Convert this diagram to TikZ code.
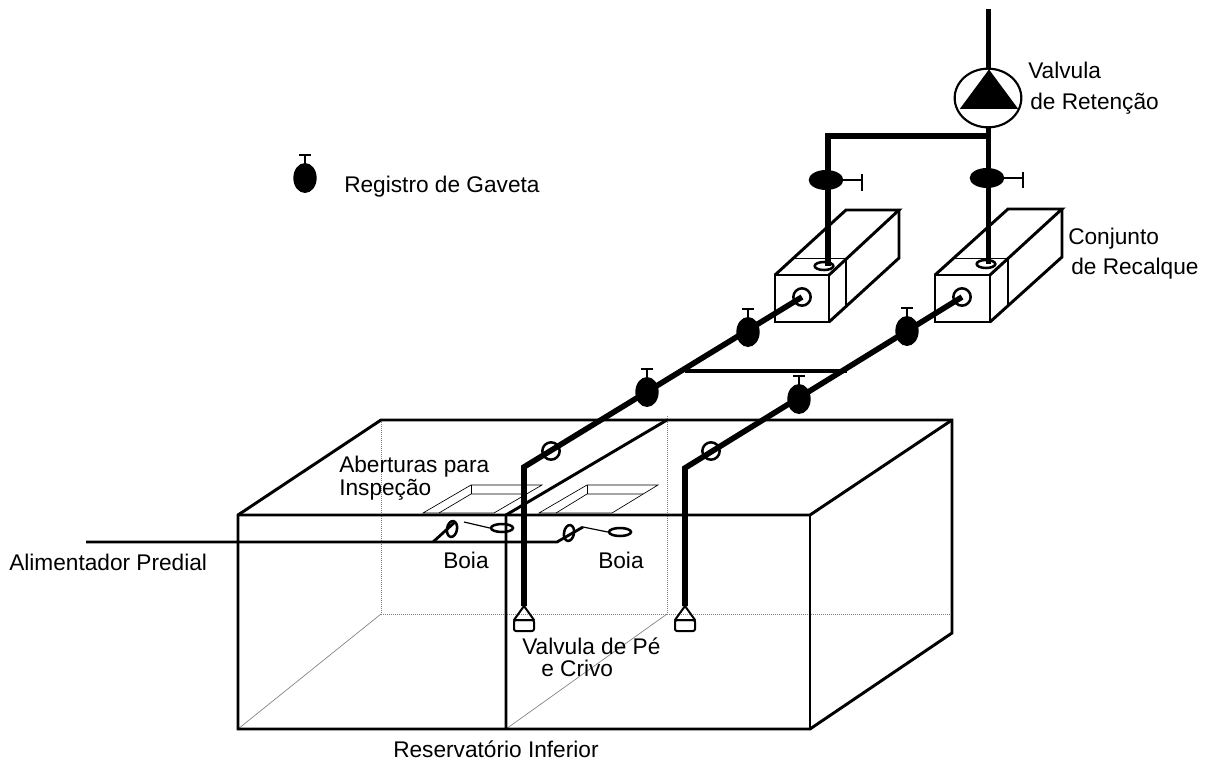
\documentclass[tikz,border=0pt]{standalone}
\usepackage{fontspec}
\setmainfont{Liberation Sans}
\usetikzlibrary{shapes.geometric}
\tikzset{
    pipe/.style={line width=4.2pt},
    feed/.style={line width=2.1pt},
    edge/.style={line width=2.2pt},
    faint/.style={gray, line width=0.5pt},
    hatchline/.style={black, line width=0.5pt},
    valvebody/.style={ellipse, fill=black, inner sep=0pt, minimum width=17.5pt, minimum height=22.5pt},
    valveside/.style={ellipse, fill=black, inner sep=0pt, minimum width=26pt, minimum height=15pt},
    ring/.style={ellipse, draw=black, line width=1.9pt, inner sep=0pt, minimum width=13pt, minimum height=13pt},
    slot/.style={ellipse, draw=black, line width=1.9pt, inner sep=0pt, minimum width=16.5pt, minimum height=6pt},
    lbl/.style={anchor=base west, inner sep=0pt, font=\fontsize{17}{20}\selectfont}
}
\begin{document}
\begin{tikzpicture}[x=0.75pt, y=-0.75pt]
        \useasboundingbox (0,0) rectangle (1211,763);

        % hidden edges of the tank
        \draw[faint, densely dotted] (381,420) -- (381,614) -- (952,614);
        \draw[faint, densely dotted] (667,416) -- (667,614);
        \draw[faint] (238,729) -- (381,614);
        \draw[faint] (506,729) -- (667,614);

        % tank
        \draw[edge] (238,729) -- (238,515) -- (381,420) -- (952,420) -- (952,633) -- (810,729) -- cycle;
        \draw[edge] (238,515) -- (810,515) -- (952,420);
        \draw[edge] (810,515) -- (810,729);
        \draw[edge] (667,420) -- (506,515) -- (506,729);

        % openings
        \draw[hatchline] (423,513) -- (471,485) -- (542,485) -- (494,513) -- cycle;
        \draw[hatchline] (439,513) -- (471,494) -- (527,494);
        \draw[hatchline] (471,485) -- (471,494);
        \draw[hatchline] (539,513) -- (587,485) -- (658,485) -- (612,513) -- cycle;
        \draw[hatchline] (556,513) -- (587,494) -- (643,494);
        \draw[hatchline] (587,485) -- (587,494);

        % left pump
        \draw[edge] (775,275) rectangle (829,322);
        \draw[edge] (775,275) -- (846,210) -- (899,210) -- (829,275);
        \draw[edge] (899,210) -- (899,258) -- (829,322);
        \draw[edge] (846,258) -- (846,305);
        \draw[faint, black] (793,258) -- (846,258);

        % right pump
        \draw[edge] (935,275) rectangle (990,322);
        \draw[edge] (935,275) -- (1008,209) -- (1062,209) -- (990,275);
        \draw[edge] (1062,209) -- (1062,257) -- (990,322);
        \draw[edge] (1008,257) -- (1008,305);
        \draw[faint, black] (953,258) -- (1008,258);

        % pipe corners
        \coordinate (bendA) at (524,467);
        \coordinate (bendB) at (685,468);
        \coordinate (teeA) at (685,371);
        \coordinate (teeB) at (847,371);
        \coordinate (topL) at (828,136);
        \coordinate (topR) at (988.5,136);
        \coordinate (pipeEnd) at (988.5,9);
        \coordinate (footA) at (524,606);
        \coordinate (footB) at (685,606);

        % holes of the pumps
        \node[ring] (inA) at (802,297) {};
        \node[ring] (inB) at (962,297) {};
        \node[slot, minimum width=14pt] (outA) at (824,266) {};
        \node[slot, minimum width=14pt] (outB) at (986,264) {};

        % foot valves
        \foreach \fx in {524,685} {
            \draw[line width=1.5pt, line join=round] (\fx,606) -- (\fx+10,620) -- (\fx-10,620) -- cycle;
            \draw[line width=1.5pt, rounded corners=1.5pt] (\fx-10,620) rectangle (\fx+10,631);
        }

        % pipes
        \draw[pipe] (footA) -- (bendA) -- (inA.center);
        \draw[pipe] (footB) -- (bendB) -- (inB.center);
        \draw[line width=2.7pt] (teeA) -- (teeB);
        \draw[pipe] (topL |- outA.center) -- (topL) -- (topR);
        \draw[pipe] (topR |- outB.center) -- (pipeEnd);

        % check valve
        \node[draw=black, fill=white, ellipse, line width=1.6pt, inner sep=0pt, minimum width=50pt, minimum height=44pt] (check) at (988,98) {};
        \node[fill=black, isosceles triangle, isosceles triangle apex angle=73, shape border rotate=90, inner sep=0pt, minimum height=29.5pt, anchor=apex] (checkTri) at (989,69) {};

        % valves on the suction pipes
        \foreach \vname/\vx/\vy in {vA/647/392, vB/748/332, vC/799/399, vD/907/331} {
            \node[valvebody] (\vname) at (\vx,\vy) {};
            \draw[line width=1.4pt] (\vname.center) -- (\vx,\vy-23);
            \draw[line width=2pt] (\vx-6,\vy-23) -- (\vx+6,\vy-23);
        }
        % legend valve
        \node[valvebody] (vKey) at (305,178) {};
        \draw[line width=1.4pt] (vKey.center) -- (305,155);
        \draw[line width=2pt] (299,155) -- (311,155);

        % valves on the discharge pipes
        \node[valveside] (vE) at (826,180) {};
        \draw[line width=1.4pt] (vE.center) -- (862,180);
        \draw[line width=2pt] (862,174) -- (862,191);
        \node[valveside] (vF) at (987,178) {};
        \draw[line width=1.4pt] (vF.center) -- (1023,178);
        \draw[line width=2pt] (1023,172) -- (1023,188);

        % rings on the pipes
        \node[ring] (ringA) at (551,451) {};
        \node[ring] (ringB) at (711,451) {};

        % feed line and floats
        \draw[feed] (86,542) -- (557,542) -- (583,527);
        \draw[feed] (433,542) -- (455,522);
        \node[ring, minimum width=7.5pt, minimum height=12pt, rotate=-10] (gripA) at (452,529) {};
        \node[ring, minimum width=7.5pt, minimum height=12pt, rotate=-10] (gripB) at (569,533) {};
        \node[slot] (floatA) at (502,528) {};
        \node[slot] (floatB) at (620,532) {};
        \draw[hatchline, line width=0.9pt] (464,522) -- (floatA.west);
        \draw[hatchline, line width=0.9pt] (583,527) -- (floatB.west);

        % labels
        \node[lbl] (lValve) at (1028,79) {Valvula};
        \node[lbl] (lValveB) at (1030,110) {de Retenção};
        \node[lbl] (lPump) at (1068,244) {Conjunto};
        \node[lbl] (lPumpB) at (1071,275) {de Recalque};
        \node[lbl] (lKey) at (344,193) {Registro de Gaveta};
        \node[lbl] (lOpen) at (339,472) {Aberturas para};
        \node[lbl] (lOpenB) at (339,495) {Inspeção};
        \node[lbl] (lBoiaA) at (443,568) {Boia};
        \node[lbl] (lBoiaB) at (598,568) {Boia};
        \node[lbl] (lFeed) at (9,570) {Alimentador Predial};
        \node[lbl] (lFoot) at (522,654) {Valvula de Pé};
        \node[lbl] (lFootB) at (541,676) {e Crivo};
        \node[lbl] (lTank) at (393,757) {Reservatório Inferior};
\end{tikzpicture}
\end{document}
